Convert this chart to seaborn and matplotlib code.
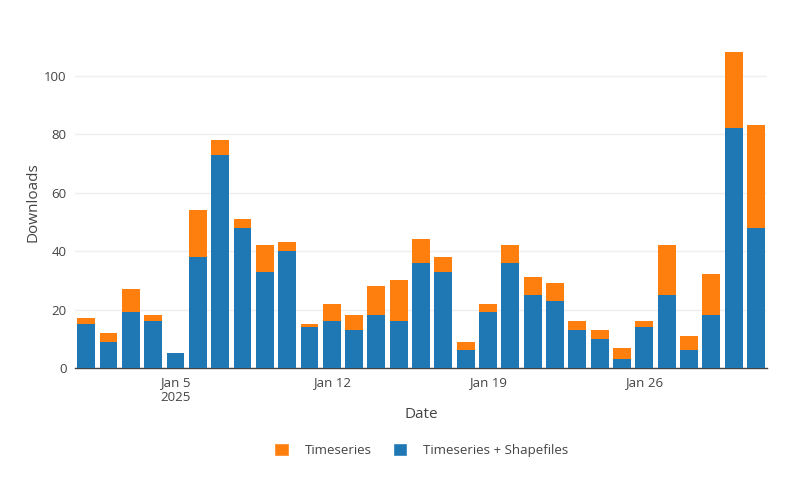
import pandas as pd
import numpy as np
import matplotlib
matplotlib.use("Agg")
import matplotlib.pyplot as plt
import seaborn as sns
from matplotlib.patches import Patch

dates = pd.date_range("2025-01-01", "2025-01-31", freq="D")
shapefiles = [15, 9, 19, 16, 5, 38, 73, 48, 33, 40, 14, 16, 13, 18, 16, 36,
              33, 6, 19, 36, 25, 23, 13, 10, 3, 14, 25, 6, 18, 82, 48]
timeseries = [2, 3, 8, 2, 0, 16, 5, 3, 9, 3, 1, 6, 5, 10, 14, 8,
              5, 3, 3, 6, 6, 6, 3, 3, 4, 2, 17, 5, 14, 26, 35]

df = pd.DataFrame({"date": dates, "shp": shapefiles, "ts": timeseries})
df["total"] = df["shp"] + df["ts"]
df["day"] = df["date"].dt.strftime("%Y-%m-%d")

sns.set_style("white")
plt.rcParams["font.family"] = ["Open Sans", "DejaVu Sans"]

fig = plt.figure(figsize=(7.9, 4.91), dpi=100)
ax = fig.add_axes([0.095, 0.2505, 0.876, 0.677])

orange = "#ff7f0e"
blue = "#1f77b4"
sns.barplot(data=df, x="day", y="total", color=orange, width=0.8,
            saturation=1, ax=ax, zorder=2)
sns.barplot(data=df, x="day", y="shp", color=blue, width=0.8,
            saturation=1, ax=ax, zorder=3)
for p in ax.patches:
    p.set_linewidth(0)

ax.set_xlim(-0.5, 30.5)
ax.set_ylim(0, 113.7)
ax.set_yticks([0, 20, 40, 60, 80, 100])
ax.set_xticks([4, 11, 18, 25])
ax.set_xticklabels(["Jan 5\n2025", "Jan 12", "Jan 19", "Jan 26"])
ax.tick_params(axis="both", colors="#444444", labelsize=9.5, length=0, pad=6)
ax.grid(axis="y", color="#eeeeee", linewidth=1, zorder=0)
ax.set_axisbelow(True)
for s in ["top", "right", "left"]:
    ax.spines[s].set_visible(False)
ax.spines["bottom"].set_color("#444444")
ax.spines["bottom"].set_linewidth(1)

ax.set_xlabel("Date", fontsize=11, color="#444444", labelpad=2)
ax.set_ylabel("Downloads", fontsize=11, color="#444444", labelpad=3)

handles = [Patch(facecolor=orange, label="Timeseries"),
           Patch(facecolor=blue, label="Timeseries + Shapefiles")]
fig.legend(handles=handles, loc="center", bbox_to_anchor=(0.533, 0.083),
           ncol=2, frameon=False, fontsize=9.5, handlelength=1.1,
           handleheight=1.1, handletextpad=1.2, columnspacing=1.6,
           labelcolor="#444444")

fig.savefig("out.png", dpi=100)
